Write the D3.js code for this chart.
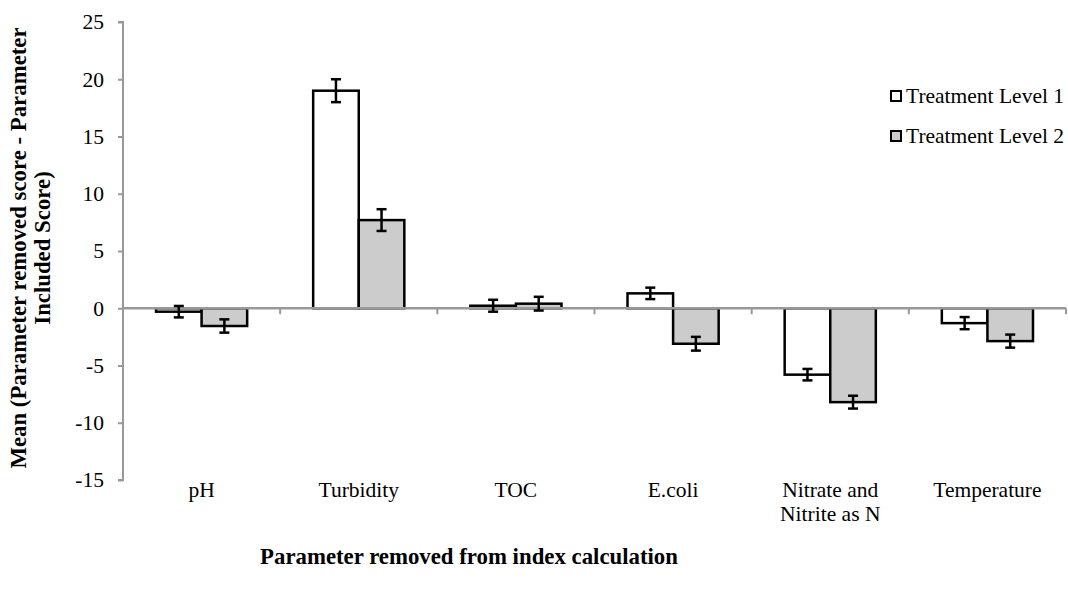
<!DOCTYPE html>
<html><head><meta charset="utf-8">
<script src="https://cdn.jsdelivr.net/npm/d3@7"></script>
<style>body{margin:0;background:#fff;} svg{display:block;}</style>
</head><body>
<svg id="c" width="1068" height="593"></svg>
<script>
const categories = ["pH","Turbidity","TOC","E.coli","Nitrate and\nNitrite as N","Temperature"];
const seriesNames = ["Treatment Level 1","Treatment Level 2"];
const level1 = [-0.3, 19.0, 0.22, 1.3, -5.8, -1.3];
const level1Err = [0.5, 1.0, 0.52, 0.5, 0.5, 0.53];
const level2 = [-1.55, 7.7, 0.4, -3.1, -8.2, -2.87];
const level2Err = [0.58, 0.95, 0.6, 0.6, 0.56, 0.57];
const yTicks = [25,20,15,10,5,0,-5,-10,-15];
const fills = ["#ffffff","#cccccc"];

const svg = d3.select("#c");
const font = "'Liberation Serif','Times New Roman',serif";
const pLeft = 123, pRight = 1066, pTop = 22, pBottom = 480;
const y = d3.scaleLinear().domain([-15,25]).range([pBottom, pTop]);
const x0 = d3.scaleBand().domain(categories).range([pLeft, pRight]).padding(0);
const bw = x0.bandwidth();
const barW = bw * 0.29;
const x1 = d3.scaleBand().domain([0,1]).range([bw/2 - barW, bw/2 + barW]).padding(0);

// y axis
const yAxis = d3.axisLeft(y).tickValues(yTicks).tickSize(5).tickPadding(14).tickFormat(d => String(d));
const gy = svg.append("g").attr("transform", `translate(${pLeft},0)`).call(yAxis);
gy.select(".domain").attr("stroke","#999").attr("stroke-width",2).attr("d", `M-5,${pTop}H0V${pBottom}H-5`);
gy.selectAll(".tick line").attr("stroke","#999").attr("stroke-width",2);
gy.selectAll(".tick text").attr("font-family",font).attr("font-size",21.5).attr("fill","#000");

// bars
const data = [];
categories.forEach((c,i)=>{
  data.push({c, s:0, v:level1[i], e:level1Err[i]});
  data.push({c, s:1, v:level2[i], e:level2Err[i]});
});
const gb = svg.append("g");
gb.selectAll("rect").data(data).join("rect")
  .attr("x", d => x0(d.c) + x1(d.s))
  .attr("width", x1.bandwidth())
  .attr("y", d => y(Math.max(0,d.v)))
  .attr("height", d => Math.abs(y(d.v) - y(0)))
  .attr("fill", d => fills[d.s])
  .attr("stroke","#000").attr("stroke-width",2.5);

// zero axis (category axis)
svg.append("line").attr("x1",pLeft).attr("x2",pRight).attr("y1",y(0)).attr("y2",y(0))
  .attr("stroke","#999").attr("stroke-width",2.5);
const tickXs = categories.map(c => x0(c) + bw);
svg.append("g").selectAll("line").data(tickXs).join("line")
  .attr("x1",d=>d).attr("x2",d=>d).attr("y1",y(0)).attr("y2",y(0)+6)
  .attr("stroke","#999").attr("stroke-width",2);

// error bars
const ge = svg.append("g").attr("stroke","#000").attr("stroke-width",2.5);
data.forEach(d=>{
  const cx = x0(d.c) + x1(d.s) + x1.bandwidth()/2;
  const y1 = y(d.v + d.e), y2 = y(d.v - d.e);
  ge.append("line").attr("x1",cx).attr("x2",cx).attr("y1",y1).attr("y2",y2);
  ge.append("line").attr("x1",cx-5).attr("x2",cx+5).attr("y1",y1).attr("y2",y1);
  ge.append("line").attr("x1",cx-5).attr("x2",cx+5).attr("y1",y2).attr("y2",y2);
});

// category labels
const gl = svg.append("g").attr("font-family",font).attr("font-size",21.5).attr("text-anchor","middle");
categories.forEach(c=>{
  const t = gl.append("text").attr("x", x0(c) + bw/2).attr("y", 497);
  c.split("\n").forEach((line,k)=>{
    t.append("tspan").attr("x", x0(c) + bw/2).attr("dy", k===0?0:24).text(line);
  });
});

// axis titles
svg.append("text").attr("x",469).attr("y",564).attr("text-anchor","middle")
  .attr("font-family",font).attr("font-size",22.8).attr("font-weight","bold")
  .text("Parameter removed from index calculation");
const yt = svg.append("text").attr("transform","translate(0,248) rotate(-90)")
  .attr("text-anchor","middle").attr("font-family",font).attr("font-size",22.8).attr("font-weight","bold");
yt.append("tspan").attr("x",0).attr("y",26).text("Mean (Parameter removed score - Parameter");
yt.append("tspan").attr("x",0).attr("y",50).text("Included Score)");

// legend
const lg = svg.append("g");
seriesNames.forEach((n,i)=>{
  const yy = 96 + i*40;
  lg.append("rect").attr("x",891).attr("y",yy-5).attr("width",10).attr("height",10)
    .attr("fill",fills[i]).attr("stroke","#000").attr("stroke-width",2);
  lg.append("text").attr("x",906).attr("y",yy+7).attr("font-family",font).attr("font-size",21.5).text(n);
});
</script>
</body></html>
